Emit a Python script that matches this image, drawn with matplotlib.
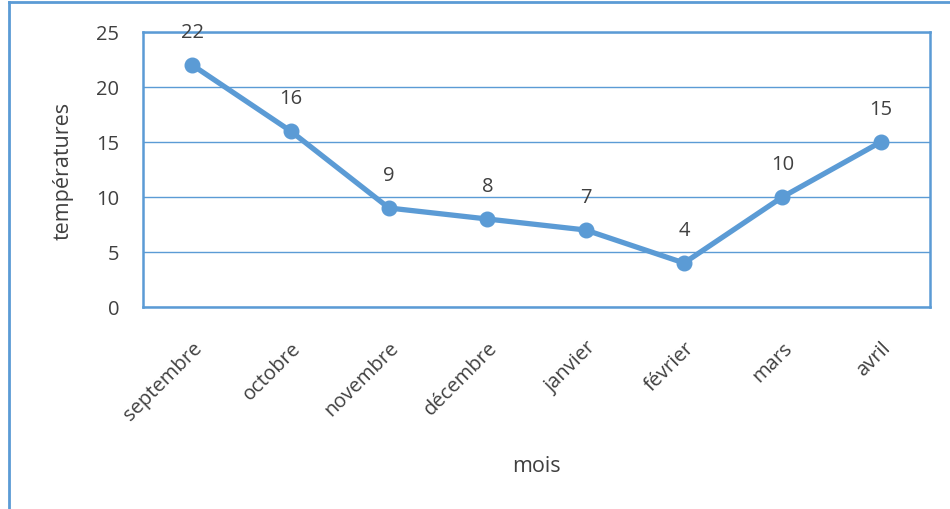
import matplotlib
matplotlib.use("Agg")
import matplotlib.pyplot as plt
from matplotlib.lines import Line2D
from matplotlib.transforms import ScaledTranslation

months = ["septembre", "octobre", "novembre", "décembre", "janvier", "février", "mars", "avril"]
temperatures = [22, 16, 9, 8, 7, 4, 10, 15]
y_ticks = [0, 5, 10, 15, 20, 25]

plt.rcParams['font.family'] = ['Open Sans', 'DejaVu Sans']
blue = '#5B9BD5'
txt = '#404040'
fs = 14.5

fig = plt.figure(figsize=(9.5, 5.1), dpi=100)
ax = fig.add_axes([143/950, 1-308/510, (930-143)/950, (308-33)/510])

x = list(range(len(months)))
ax.plot(x, temperatures, color=blue, lw=3.8, marker='o', markersize=10.5, solid_capstyle='round', zorder=3)
for xi, v in zip(x, temperatures):
    ax.annotate(str(v), (xi, v), xytext=(0, 23.5), textcoords='offset points',
                ha='center', va='center', fontsize=fs, color=txt)

ax.set_xlim(-0.5, len(months) - 0.5)
ax.set_ylim(0, 25)
ax.set_yticks(y_ticks)
ax.set_yticklabels([str(t) for t in y_ticks], fontsize=fs, color=txt)
ax.set_xticks(x)
ax.set_xticklabels(months, rotation=45, ha='right', rotation_mode='anchor', fontsize=fs, color=txt)
shift = ScaledTranslation(-5/100, 0, fig.dpi_scale_trans)
for lbl in ax.get_xticklabels():
    lbl.set_transform(lbl.get_transform() + shift)
ax.tick_params(axis='both', length=0)
ax.tick_params(axis='y', pad=17)
ax.tick_params(axis='x', pad=22)
ax.grid(axis='y', color=blue, lw=1)
ax.set_axisbelow(True)
for s in ax.spines.values():
    s.set_color(blue)
    s.set_linewidth(1.8)

ax.set_ylabel("températures", fontsize=15.5, color=txt, labelpad=16)
ax.set_xlabel("mois", fontsize=15.5, color=txt, labelpad=22)

fig.add_artist(Line2D([9/950, 9/950], [0, 1-3/510], transform=fig.transFigure, color=blue, lw=2))
fig.add_artist(Line2D([9/950, 1], [1-3/510, 1-3/510], transform=fig.transFigure, color=blue, lw=2))

fig.savefig("out.png", dpi=100)
